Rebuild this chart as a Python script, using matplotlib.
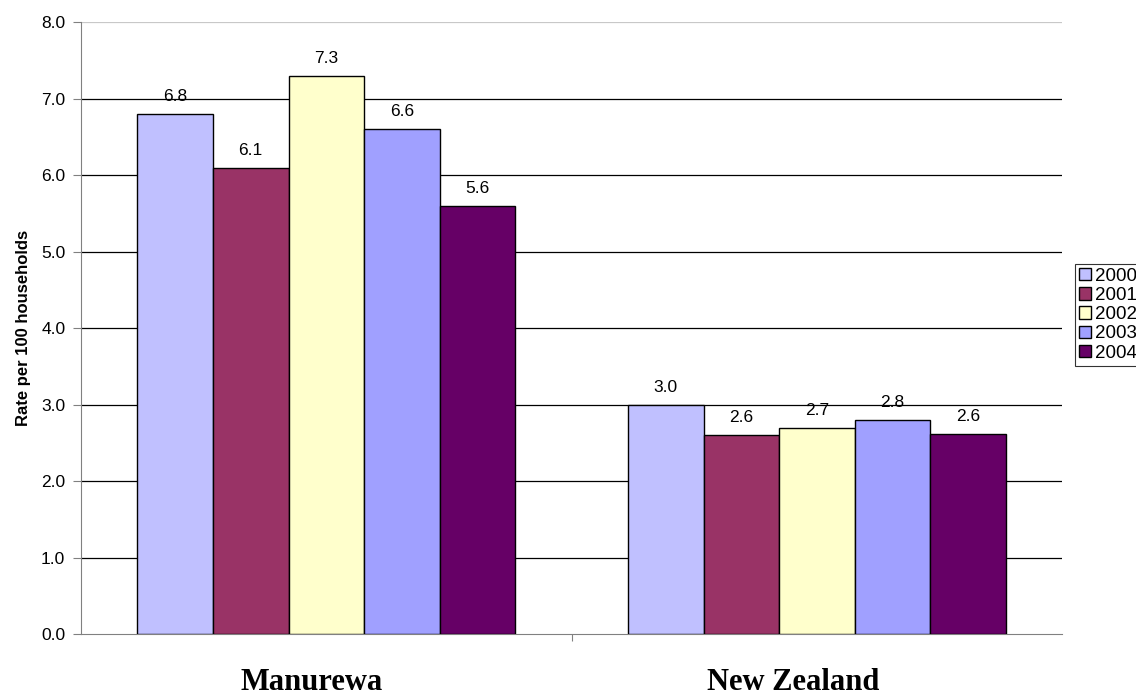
import matplotlib
matplotlib.use("Agg")
import matplotlib.pyplot as plt
import numpy as np

categories = ["Manurewa", "New Zealand"]
years = ["2000", "2001", "2002", "2003", "2004"]
values = {
    "2000": [6.8, 3.0],
    "2001": [6.1, 2.6],
    "2002": [7.3, 2.7],
    "2003": [6.6, 2.8],
    "2004": [5.6, 2.62],
}
colors = ["#C0C0FF", "#993366", "#FFFFCC", "#A0A0FF", "#660066"]

fig = plt.figure(figsize=(11.36, 6.96), dpi=100)
ax = fig.add_axes([0.0713, 0.089, 0.8637, 0.879])

x = np.arange(len(categories))
bw = 0.154
n = len(years)
for i, (yr, c) in enumerate(zip(years, colors)):
    pos = x + (i - (n - 1) / 2) * bw
    bars = ax.bar(pos, values[yr], bw, color=c, edgecolor="black", linewidth=1.0, label=yr, zorder=3)
    for b, v in zip(bars, values[yr]):
        ax.text(b.get_x() + b.get_width() / 2, v + 0.13, f"{v:.1f}", ha="center", va="bottom",
                fontsize=12.5, family="Liberation Sans", zorder=4)

ax.set_xlim(-0.5, 1.5)
ax.set_ylim(0, 8)
ax.set_yticks(np.arange(0, 8.01, 1.0))
ax.set_yticklabels([f"{t:.1f}" for t in np.arange(0, 8.01, 1.0)], family="Liberation Sans", fontsize=12.5)
ax.set_xticks([0.5])
ax.set_xticklabels([])
ax.tick_params(axis="x", length=5, width=0.8, colors="#808080", direction="out")
ax.tick_params(axis="y", length=5.8, width=0.8, direction="out", color="#808080", pad=5.5)
for t in ax.get_yticklabels():
    t.set_color("black")

for yv in np.arange(1, 8, 1.0):
    ax.axhline(yv, color="black", linewidth=0.9, zorder=1)
ax.axhline(8, color="#C8C8C8", linewidth=0.9, zorder=1)

for s in ["top", "right"]:
    ax.spines[s].set_visible(False)
ax.spines["left"].set_color("#808080")
ax.spines["bottom"].set_color("#808080")

label_shift = [-0.03, -0.048]
for xi, cat, sh in zip(x, categories, label_shift):
    ax.text(xi + sh, -0.092, cat, transform=ax.get_xaxis_transform(),
            ha="center", va="baseline", fontsize=22, fontweight="bold", family="Liberation Serif")

ax.set_ylabel("Rate per 100 households", fontsize=12, fontweight="bold", family="Liberation Sans", labelpad=7)

leg = fig.legend(loc="upper left", bbox_to_anchor=(1075 / 1136, 1 - 264 / 696),
                 prop={"family": "Liberation Sans", "size": 13.5}, frameon=True, fancybox=False,
                 edgecolor="black", handlelength=0.65, handleheight=0.65, handletextpad=0.2,
                 labelspacing=0.12, borderpad=0.2, borderaxespad=0)
leg.get_frame().set_linewidth(0.8)

fig.savefig("out.png", dpi=100)
